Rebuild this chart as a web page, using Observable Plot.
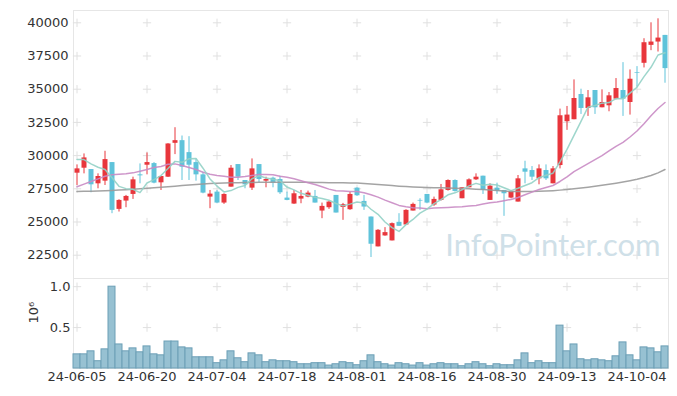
<!DOCTYPE html>
<html><head><meta charset="utf-8">
<script src="https://cdn.jsdelivr.net/npm/d3@7"></script>
<script src="https://cdn.jsdelivr.net/npm/@observablehq/plot@0.6"></script>
<style>
body{margin:0;background:#fff;}
#chart{width:677px;height:396px;}
#chart svg{display:block;}
</style></head><body><div id="chart"></div>
<script>
const dates = ["2024-06-05","2024-06-07","2024-06-10","2024-06-11","2024-06-12","2024-06-13","2024-06-14","2024-06-17","2024-06-18","2024-06-19",
"2024-06-20","2024-06-21","2024-06-24","2024-06-25","2024-06-26","2024-06-27","2024-06-28","2024-07-01","2024-07-02","2024-07-03",
"2024-07-04","2024-07-05","2024-07-08","2024-07-09","2024-07-10","2024-07-11","2024-07-12","2024-07-15","2024-07-16","2024-07-17",
"2024-07-18","2024-07-19","2024-07-22","2024-07-23","2024-07-24","2024-07-25","2024-07-26","2024-07-29","2024-07-30","2024-07-31",
"2024-08-01","2024-08-02","2024-08-05","2024-08-06","2024-08-07","2024-08-08","2024-08-09","2024-08-12","2024-08-13","2024-08-14",
"2024-08-16","2024-08-19","2024-08-20","2024-08-21","2024-08-22","2024-08-23","2024-08-26","2024-08-27","2024-08-28","2024-08-29",
"2024-08-30","2024-09-02","2024-09-03","2024-09-04","2024-09-05","2024-09-06","2024-09-09","2024-09-10","2024-09-11","2024-09-12",
"2024-09-13","2024-09-19","2024-09-20","2024-09-23","2024-09-24","2024-09-25","2024-09-26","2024-09-27","2024-09-30","2024-10-02",
"2024-10-04","2024-10-07","2024-10-08","2024-10-10","2024-10-11"];

const open = [28675,29050,28950,27875,28075,29475,25950,26575,27075,28550,
 29275,29400,27950,28375,30925,31125,30225,29475,28550,26875,
 27250,26425,27625,29325,28125,27550,29325,28075,28300,28200,
 26800,26350,26725,26875,26925,25825,26075,27000,26100,25925,
 27550,26550,25375,23125,23950,23575,24975,24775,25825,26625,
 27075,26275,26625,27375,28125,26750,27575,28175,28450,26625,
 27550,27375,26800,26500,29000,28875,28250,28875,27875,29250,
 32550,32700,34600,33550,34900,33600,33750,34250,34900,34000,
 36250,36950,38300,38550,39050];
const high = [29300,30125,28950,28625,30325,29475,26675,27000,28375,29375,
 30200,29475,28425,30900,32100,31475,31425,29750,28750,27375,
 27375,27125,29250,29325,28125,29750,29325,28375,28375,28450,
 27250,27375,27375,27325,27375,26425,26575,27000,26400,27250,
 27575,27000,25375,24425,24575,24925,25625,25925,26425,26750,
 27075,26875,27825,28175,28175,27575,28250,28625,28450,27875,
 27925,27375,27375,28500,29575,29175,29300,29300,29175,33500,
 33700,35700,35000,34900,34900,34950,34750,35800,37000,36450,
 36700,38800,40000,40300,39050];
const low = [27750,28625,27200,27500,27750,25625,25750,26075,26700,27875,
 28550,27875,27375,28350,30075,28125,28125,28075,27125,26000,
 26375,26325,27625,28125,27500,27375,27950,27575,27575,27075,
 26600,26325,26375,26825,26425,25250,25950,25675,25125,25875,
 26925,25875,22325,23125,23925,23575,24675,24775,25825,25875,
 26375,26175,26575,27325,27250,26750,27575,28125,27075,26625,
 27075,25425,26750,26500,27875,28125,27800,28125,27875,29000,
 31900,32700,33100,32950,33100,33600,33300,34200,32950,33050,
 35150,36600,37900,37800,35450];
const close = [29000,29825,27800,28425,29700,25875,26625,26925,28175,28475,
 29475,27925,28425,30875,31125,29125,29275,28550,27175,27100,
 26425,27075,29050,28375,27800,29000,28200,28200,27925,27200,
 26625,27125,26925,27175,26425,26175,26500,25675,26300,27075,
 26975,26125,23325,24375,24200,24875,24675,25875,26325,26575,
 26425,26700,27425,28125,27300,27575,28175,28375,27375,27700,
 27325,27125,27300,28250,28750,28375,29000,28250,29000,33000,
 33050,34300,33550,34350,33600,34000,34500,35050,34250,35750,
 36200,38500,38550,38850,36550];
// volume in millions of shares
const volume = [0.173,0.173,0.21,0.089,0.234,1.0,0.294,0.21,0.246,0.198,
 0.27,0.173,0.161,0.33,0.33,0.258,0.246,0.137,0.137,0.137,
 0.065,0.10,0.21,0.125,0.077,0.185,0.161,0.077,0.10,0.089,
 0.089,0.077,0.052,0.052,0.065,0.065,0.036,0.052,0.077,0.065,
 0.04,0.089,0.161,0.077,0.052,0.036,0.065,0.052,0.036,0.065,
 0.036,0.052,0.065,0.052,0.052,0.028,0.052,0.077,0.052,0.028,
 0.052,0.04,0.04,0.10,0.185,0.065,0.089,0.065,0.065,0.524,
 0.21,0.294,0.113,0.10,0.113,0.10,0.089,0.149,0.319,0.161,
 0.10,0.258,0.246,0.198,0.27];
const ma5 = [29700,29700,29375,29125,28950,28325,27685,27510,27460,27215,
 27935,28195,28495,29035,29565,29495,29765,29790,29050,28245,
 27705,27265,27365,27605,27745,28260,28485,28315,28225,28105,
 27630,27415,27160,27010,26855,26765,26640,26390,26215,26345,
 26505,26430,25960,25575,25000,24580,24290,24800,25190,25665,
 25975,26380,26690,27050,27195,27425,27720,27910,27760,27840,
 27790,27580,27365,27540,27750,27960,28335,28525,28675,29525,
 30465,31520,32580,33645,33770,33950,33995,34295,34275,34705,
 35150,35950,36650,37575,37740];
const ma20 = [27650,27850,28050,28250,28450,28550,28600,28625,28700,28825,
 28950,29100,29175,29350,29375,29250,29100,28950,28750,28600,
 28500,28450,28375,28375,28425,28500,28575,28575,28550,28450,
 28375,28250,28100,27950,27825,27650,27475,27350,27325,27300,
 27300,27200,27050,26875,26650,26450,26250,26150,26075,26050,
 26000,26050,26075,26100,26125,26150,26200,26250,26350,26450,
 26500,26600,26700,26850,27050,27250,27450,27600,27750,28050,
 28400,28800,29100,29400,29700,30000,30350,30700,31000,31400,
 31850,32400,33000,33550,34000];
const ma60 = [27300,27310,27320,27340,27360,27380,27400,27425,27460,27500,
 27540,27580,27625,27660,27700,27740,27780,27820,27860,27900,
 27925,27940,27950,27960,27970,27980,27990,28000,28000,28000,
 28000,28000,28000,27990,27980,27970,27960,27950,27950,27940,
 27930,27900,27860,27820,27780,27740,27700,27670,27640,27620,
 27600,27580,27570,27560,27540,27520,27500,27470,27440,27410,
 27380,27330,27300,27290,27290,27300,27310,27330,27360,27400,
 27450,27500,27560,27620,27690,27760,27840,27920,28010,28110,
 28220,28350,28500,28700,28950];

const priceTicks = [22500,25000,27500,30000,32500,35000,37500,40000];
const volTicks = [0.5,1.0];
const dateTickIdx = [0,10,20,30,40,50,60,70,80];
const volumeUnitLabel = "10⁶";
const watermark = "InfoPointer.com";

const RED = "#e8363c", BLUE = "#5fc3da";
const rows = dates.map((d,i)=>({i, date:d, open:open[i], high:high[i], low:low[i], close:close[i],
  vol:volume[i], ma5:ma5[i], ma20:ma20[i], ma60:ma60[i], up: close[i] >= open[i]}));
const upRows = rows.filter(r=>r.up), downRows = rows.filter(r=>!r.up);
const priceGrid = dateTickIdx.flatMap(x=>priceTicks.map(y=>({x,y})));
const volGrid = dateTickIdx.flatMap(x=>volTicks.map(y=>({x,y})));

const common = {width:677, marginLeft:73, marginRight:9,
  style:{fontFamily:"'DejaVu Sans', sans-serif", fontSize:"13px", color:"#333", background:"#fff", overflow:"visible"}};
const xDomain = [-0.5, 84.5];

const pricePlot = Plot.plot({
  ...common, height:278, marginTop:10, marginBottom:0,
  x:{domain:xDomain, axis:null},
  y:{domain:[20745,40926]},
  marks:[
    Plot.frame({stroke:"#e6e6e6"}),
    Plot.dot(priceGrid,{x:"x",y:"y",symbol:"plus",r:2.8,stroke:"#e0e0e0",strokeWidth:1}),
    Plot.text([watermark],{frameAnchor:"bottom-right",dx:-8,dy:-23,textAnchor:"end",fontSize:31,fontFamily:"Lato",fill:"#cfe0e8"}),
    Plot.axisY(priceTicks,{tickSize:0,tickPadding:5,label:null,tickFormat:d=>String(d)}),
    Plot.ruleX(upRows,{x:"i",y1:"low",y2:"high",stroke:RED,strokeWidth:1}),
    Plot.ruleX(downRows,{x:"i",y1:"low",y2:"high",stroke:BLUE,strokeWidth:1}),
    Plot.ruleX(upRows,{x:"i",y1:"open",y2:"close",stroke:RED,strokeWidth:5}),
    Plot.ruleX(downRows,{x:"i",y1:"open",y2:"close",stroke:BLUE,strokeWidth:5}),
    Plot.line(rows,{x:"i",y:"ma60",stroke:"#9a9a9a",strokeWidth:1.5,strokeOpacity:0.9}),
    Plot.line(rows,{x:"i",y:"ma20",stroke:"#c98bc4",strokeWidth:1.5,strokeOpacity:0.9}),
    Plot.line(rows,{x:"i",y:"ma5",stroke:"#93d1c7",strokeWidth:1.5,strokeOpacity:0.9})
  ]
});

const volumePlot = Plot.plot({
  ...common, height:118, marginTop:0, marginBottom:28,
  x:{domain:xDomain},
  y:{domain:[0,1.1]},
  marks:[
    Plot.frame({stroke:"#e6e6e6"}),
    Plot.dot(volGrid,{x:"x",y:"y",symbol:"plus",r:2.8,stroke:"#e0e0e0",strokeWidth:1}),
    Plot.rectY(rows,{x1:d=>d.i-0.5,x2:d=>d.i+0.5,y:"vol",fill:"#97c1d2",stroke:"#6c9fb6",strokeWidth:1}),
    Plot.axisX(dateTickIdx,{tickSize:0,tickPadding:3,label:null,tickFormat:i=>dates[i].slice(2)}),
    Plot.axisY(volTicks,{tickSize:0,tickPadding:3,label:null,tickFormat:d3.format(".1f")}),
    Plot.text([volumeUnitLabel],{frameAnchor:"left",dx:-40,rotate:-90,fontSize:13,fill:"#333"})
  ]
});

const el = document.getElementById("chart");
el.appendChild(pricePlot);
el.appendChild(volumePlot);
</script>
</body></html>
